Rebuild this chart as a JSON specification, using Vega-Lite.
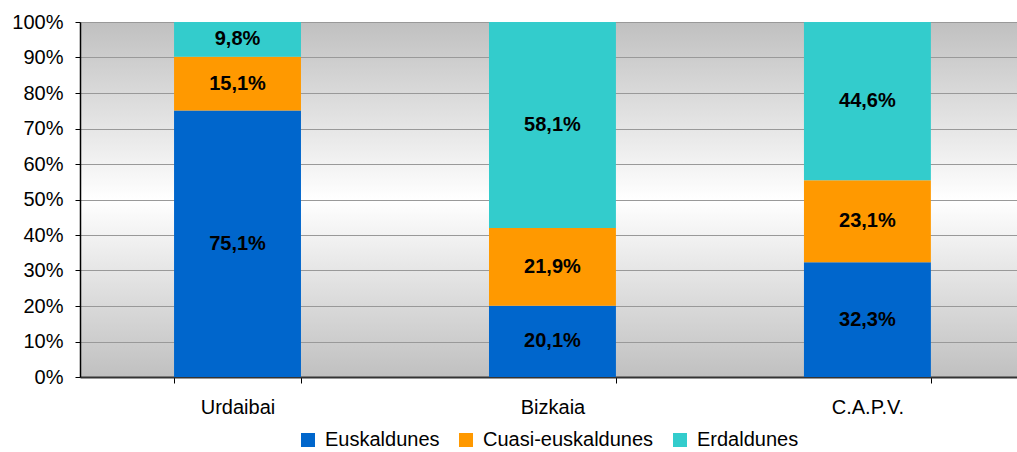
{
  "$schema": "https://vega.github.io/schema/vega-lite/v6.json",
  "width": 937,
  "height": 355,
  "autosize": {"type": "none"},
  "padding": {"left": 80, "top": 22, "right": 0, "bottom": 75},
  "background": "white",
  "config": {
    "font": "Liberation Sans",
    "locale": {"number": {"decimal": ",", "thousands": ".", "grouping": [3], "currency": ["", " €"]}},
    "legend": {"layout": {"bottom": {"anchor": "middle"}}},
    "axisY": {
      "labelOverlap": false, "labelFontSize": 20, "labelColor": "black", "tickSize": 5, "tickColor": "black",
      "domainColor": "black", "domainWidth": 1.5, "grid": true, "gridColor": "#999999", "labelPadding": 12
    },
    "view": {
      "stroke": null,
      "fill": {
        "gradient": "linear", "x1": 0, "y1": 0, "x2": 0, "y2": 1,
        "stops": [
          {"offset": 0, "color": "#c0c0c0"},
          {"offset": 0.5, "color": "#ffffff"},
          {"offset": 1, "color": "#c0c0c0"}
        ]
      }
    }
  },
  "data": {
    "values": [
      {"region": "Urdaibai", "cat": "Euskaldunes", "k": 1, "value": 0.751},
      {"region": "Urdaibai", "cat": "Cuasi-euskaldunes", "k": 2, "value": 0.151},
      {"region": "Urdaibai", "cat": "Erdaldunes", "k": 3, "value": 0.098},
      {"region": "Bizkaia", "cat": "Euskaldunes", "k": 1, "value": 0.201},
      {"region": "Bizkaia", "cat": "Cuasi-euskaldunes", "k": 2, "value": 0.219},
      {"region": "Bizkaia", "cat": "Erdaldunes", "k": 3, "value": 0.581},
      {"region": "C.A.P.V.", "cat": "Euskaldunes", "k": 1, "value": 0.323},
      {"region": "C.A.P.V.", "cat": "Cuasi-euskaldunes", "k": 2, "value": 0.231},
      {"region": "C.A.P.V.", "cat": "Erdaldunes", "k": 3, "value": 0.446}
    ]
  },
  "transform": [
    {"stack": "value", "groupby": ["region"], "sort": [{"field": "k", "order": "ascending"}], "offset": "normalize", "as": ["v0", "v1"]}
  ],
  "encoding": {
    "x": {
      "field": "region", "type": "nominal",
      "sort": ["Urdaibai", "Bizkaia", "C.A.P.V."],
      "scale": {"paddingInner": 0.597, "paddingOuter": 0.286, "align": 0.522},
      "axis": {
        "title": null, "labelAngle": 0, "tickBand": "extent", "tickSize": 6, "tickColor": "black",
        "domainColor": "#333333", "domainWidth": 2, "labelPadding": 14, "labelFontSize": 20,
        "labelColor": "black", "grid": false
      }
    }
  },
  "layer": [
    {
      "mark": {"type": "bar"},
      "encoding": {
        "y": {
          "field": "v1", "type": "quantitative", "scale": {"domain": [0, 1], "nice": false},
          "axis": {"title": null, "format": "%", "values": [0, 0.1, 0.2, 0.3, 0.4, 0.5, 0.6, 0.7, 0.8, 0.9, 1], "tickCount": 20}
        },
        "y2": {"field": "v0"},
        "color": {
          "field": "cat", "type": "nominal",
          "scale": {"domain": ["Euskaldunes", "Cuasi-euskaldunes", "Erdaldunes"], "range": ["#0066CC", "#FF9900", "#33CCCC"]},
          "legend": {
            "orient": "bottom", "direction": "horizontal", "title": null, "symbolType": "square",
            "symbolSize": 196, "symbolStrokeWidth": 0, "labelFontSize": 20, "labelColor": "black",
            "labelLimit": 400, "columnPadding": 16, "labelOffset": 7, "offset": 13
          }
        }
      }
    },
    {
      "transform": [{"fold": ["v0", "v1"], "as": ["edge", "pos"]}],
      "mark": {"type": "text", "fontWeight": "bold", "fontSize": 20, "color": "black", "baseline": "middle"},
      "encoding": {
        "y": {
          "field": "pos", "aggregate": "mean", "type": "quantitative",
          "axis": {"title": null, "format": "%", "values": [0, 0.1, 0.2, 0.3, 0.4, 0.5, 0.6, 0.7, 0.8, 0.9, 1], "tickCount": 20}
        },
        "detail": {"field": "cat"},
        "text": {"field": "value", "type": "quantitative", "format": ".1%"}
      }
    }
  ]
}
